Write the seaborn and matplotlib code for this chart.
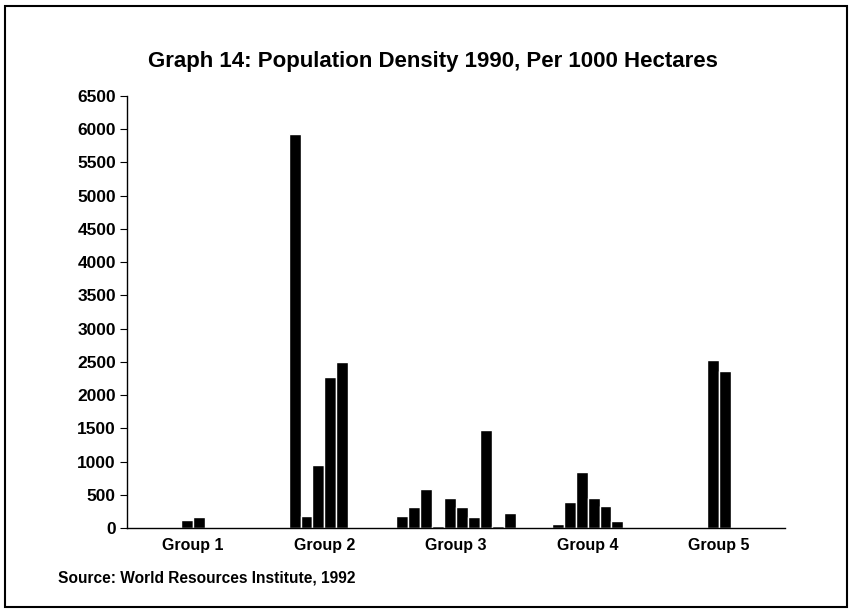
"""
Graph 14 - population density 1990 per 1000 hectares, bars grouped in five groups.
"""
import numpy as np
import pandas as pd
import matplotlib
matplotlib.use("Agg")
import matplotlib.pyplot as plt
import seaborn as sns

nan = np.nan

groups = ["Group 1", "Group 2", "Group 3", "Group 4", "Group 5"]
slots = [f"s{i}" for i in range(10)]

group1 = [nan, nan, nan, nan, 125, 170, nan, nan, nan, nan]
group2 = [nan, nan, 5930, 178, 950, 2268, 2493, nan, nan, nan]
group3 = [176, 311, 582, 36, 447, 316, 172, 1470, 25, 226]
group4 = [nan, nan, 66, 387, 849, 457, 327, 105, nan, nan]
group5 = [nan, nan, nan, nan, 2534, 2362, nan, nan, nan, nan]

yticks = list(range(0, 6501, 500))

rows = []
for g, vals in zip(groups, [group1, group2, group3, group4, group5]):
    for s, v in zip(slots, vals):
        rows.append({"group": g, "slot": s, "density": v})
df = pd.DataFrame(rows)

sns.set_theme(style="ticks", rc={
    "text.color": "black", "axes.labelcolor": "black",
    "xtick.color": "black", "ytick.color": "black", "axes.edgecolor": "black",
})
plt.rcParams["font.family"] = ["Liberation Sans", "DejaVu Sans"]
plt.rcParams["font.weight"] = "bold"

fig = plt.figure(figsize=(8.5, 6.12), dpi=100)
ax = fig.add_axes([127 / 850, 1 - 528 / 612, 658 / 850, 432 / 612])

sns.barplot(
    data=df, x="group", y="density", hue="slot", hue_order=slots,
    order=groups, palette=["black"] * 10, saturation=1, width=0.906,
    errorbar=None, legend=False, edgecolor="white", linewidth=1.0, ax=ax,
)

ax.set_xlim(-0.5, 4.5)
ax.set_ylim(0, 6500)
ax.set_yticks(yticks)
ax.set_yticklabels([str(t) for t in yticks], fontsize=12.5, fontweight="bold")
ax.set_xticks(range(5))
ax.set_xticklabels(groups, fontsize=11.5, fontweight="bold")
ax.tick_params(axis="x", length=0, pad=7)
ax.tick_params(axis="y", length=5, width=0.8, pad=3, direction="out")
ax.set_xlabel("")
ax.set_ylabel("")
sns.despine(ax=ax)
for sp in ("left", "bottom"):
    ax.spines[sp].set_linewidth(1.0)
    ax.spines[sp].set_color("black")

fig.text(433 / 850, 1 - 62 / 612, "Graph 14: Population Density 1990, Per 1000 Hectares",
         ha="center", va="center", fontsize=16, fontweight="bold")
fig.text(58 / 850, 1 - 578 / 612, "Source: World Resources Institute, 1992",
         ha="left", va="center", fontsize=11.2, fontweight="bold")

fig.add_artist(plt.Rectangle((5 / 850, 5 / 612), 842 / 850, 601 / 612,
                             transform=fig.transFigure, fill=False,
                             lw=1.5, ec="black"))

fig.savefig("out.png", dpi=100)
